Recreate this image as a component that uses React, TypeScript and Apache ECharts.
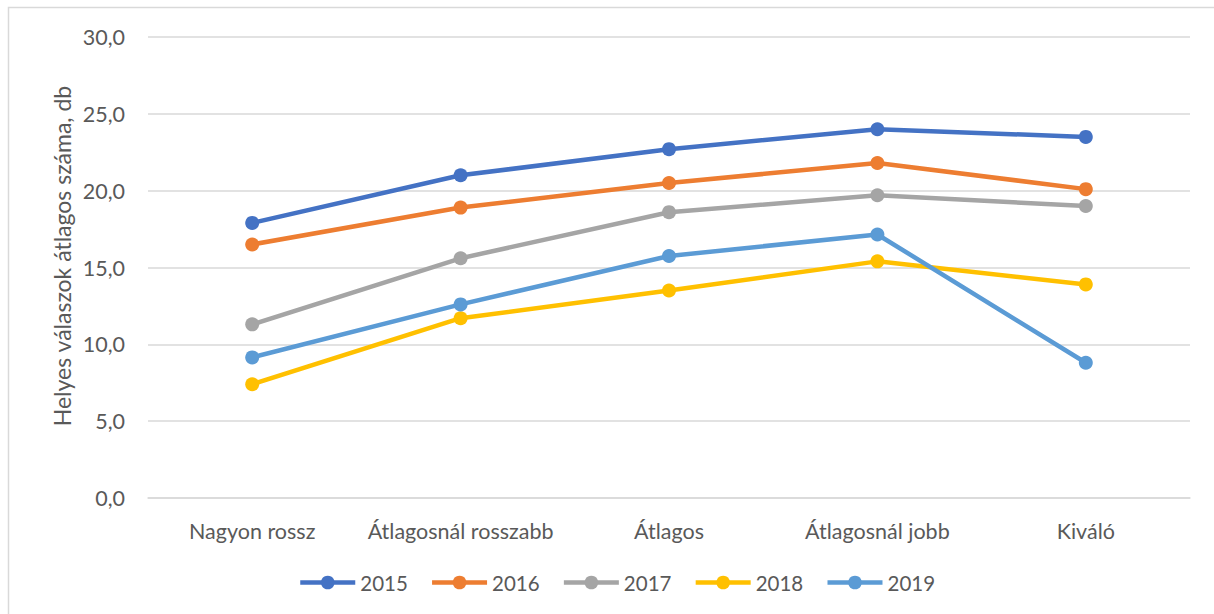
import React, { useEffect, useRef } from "react";
import * as echarts from "echarts";

const categories = ["Nagyon rossz", "Átlagosnál rosszabb", "Átlagos", "Átlagosnál jobb", "Kiváló"];
const s2015 = [17.9, 21.0, 22.7, 24.0, 23.5];
const s2016 = [16.5, 18.9, 20.5, 21.8, 20.1];
const s2017 = [11.3, 15.6, 18.6, 19.7, 19.0];
const s2018 = [7.4, 11.7, 13.5, 15.4, 13.9];
const s2019 = [9.15, 12.6, 15.75, 17.15, 8.8];
const seriesNames = ["2015", "2016", "2017", "2018", "2019"];
const seriesData = [s2015, s2016, s2017, s2018, s2019];
const colors = ["#4472C4", "#ED7D31", "#A5A5A5", "#FFC000", "#5B9BD5"];
const yTitle = "Helyes válaszok átlagos száma, db";

const FONT = "Lato";
const TXT = "#595959";

export default function App() {
  const ref = useRef<HTMLDivElement>(null);
  useEffect(() => {
    const chart = echarts.init(ref.current!, null, { renderer: "svg" });
    chart.setOption({
      animation: false,
      textStyle: { fontFamily: FONT },
      graphic: [
        {
          type: "rect",
          shape: { x: 8.5, y: 7.5, width: 1220, height: 620 },
          style: { fill: "none", stroke: "#D9D9D9", lineWidth: 1.5 },
          silent: true,
        },
        {
          type: "text",
          x: 62,
          y: 256,
          rotation: Math.PI / 2,
          silent: true,
          style: {
            text: yTitle,
            fill: TXT,
            font: `23px ${FONT}`,
            textAlign: "center",
            textVerticalAlign: "middle",
          },
        },
      ],
      grid: { left: 148, right: 24, top: 37, bottom: 116, containLabel: false },
      legend: {
        top: 567,
        left: 293,
        itemWidth: 55,
        itemHeight: 17,
        itemGap: 22,
        lineStyle: { width: 4.5 },
        textStyle: { color: TXT, fontSize: 20.5, fontFamily: FONT },
        data: seriesNames,
      },
      xAxis: {
        type: "category",
        data: categories,
        boundaryGap: true,
        axisLine: { show: true, lineStyle: { color: "#D9D9D9", width: 1.5 } },
        axisTick: { show: false },
        axisLabel: { color: TXT, fontSize: 21.5, margin: 22, fontFamily: FONT, interval: 0 },
      },
      yAxis: {
        type: "value",
        min: 0,
        max: 30,
        interval: 5,
        axisLine: { show: false },
        axisTick: { show: false },
        splitLine: { lineStyle: { color: "#D9D9D9", width: 1.5 } },
        axisLabel: {
          color: TXT,
          fontSize: 21.5,
          margin: 23,
          fontFamily: FONT,
          formatter: (v: number) => v.toFixed(1).replace(".", ","),
        },
      },
      series: seriesNames.map((n, i) => ({
        name: n,
        type: "line",
        data: seriesData[i],
        color: colors[i],
        symbol: "circle",
        symbolSize: 14,
        lineStyle: { width: 4.5, color: colors[i] },
        itemStyle: { color: colors[i] },
      })),
    });
    return () => chart.dispose();
  }, []);
  return (
    <div
      ref={ref}
      style={{ position: "absolute", left: 0, top: 0, width: 1214, height: 614 }}
    />
  );
}
